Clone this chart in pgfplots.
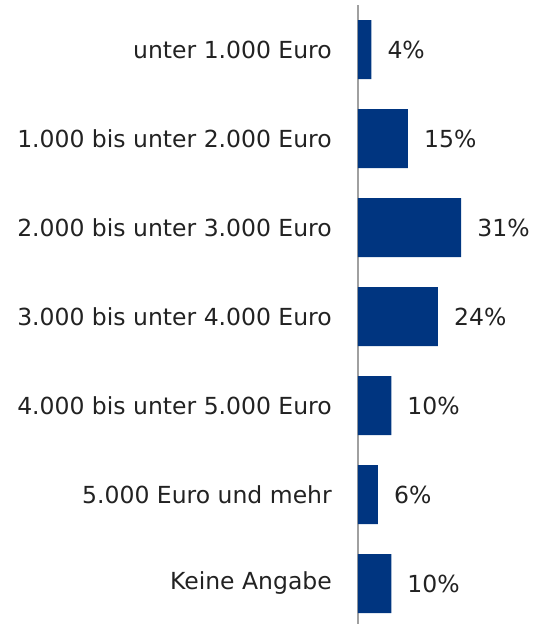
\documentclass[border=0pt]{standalone}
\usepackage{pgfplots}
\pgfplotsset{compat=1.18}
\usepackage{fontspec}
\setmainfont{DejaVu Sans}
\definecolor{barblue}{RGB}{0,53,128}
\definecolor{txt}{RGB}{34,34,34}
\definecolor{axgray}{RGB}{160,160,160}
\begin{document}
\begin{tikzpicture}
\begin{axis}[
    scale only axis,
    width=179pt, height=619pt,
    xmin=0, xmax=53.75,
    ymin=-0.5, ymax=6.455,
    y dir=reverse,
    clip=false,
    xbar, bar width=59pt, bar shift=0pt,
    axis x line=none,
    axis y line=left,
    axis line style={-, draw=axgray, line width=1.3pt},
    xtick=\empty,
    ytick={0,...,6},
    major tick length=0pt,
    yticklabels={unter 1.000 Euro, 1.000 bis unter 2.000 Euro,
      2.000 bis unter 3.000 Euro, 3.000 bis unter 4.000 Euro,
      4.000 bis unter 5.000 Euro, 5.000 Euro und mehr, Keine Angabe},
    yticklabel style={font=\fontsize{23.5}{28}\selectfont, text=txt,
      inner sep=0pt, xshift=-26pt},
    /pgf/number format/assume math mode=true,
    nodes near coords={\pgfmathprintnumber{\pgfplotspointmeta}\%},
    nodes near coords align=horizontal,
    every node near coord/.append style={font=\fontsize{23.5}{28}\selectfont,
      text=txt, inner sep=0pt, anchor=west, xshift=16pt},
]
\addplot[fill=barblue, draw=none] coordinates {
(4,0) (15,1) (31,2) (24,3) (10,4) (6,5) (10,6)
};
\coordinate (bl) at (axis cs:0,6.455);
\end{axis}
\pgfresetboundingbox
\path ([xshift=-358pt]bl) rectangle ([xshift=179pt,yshift=624pt]bl);
\end{tikzpicture}
\end{document}
